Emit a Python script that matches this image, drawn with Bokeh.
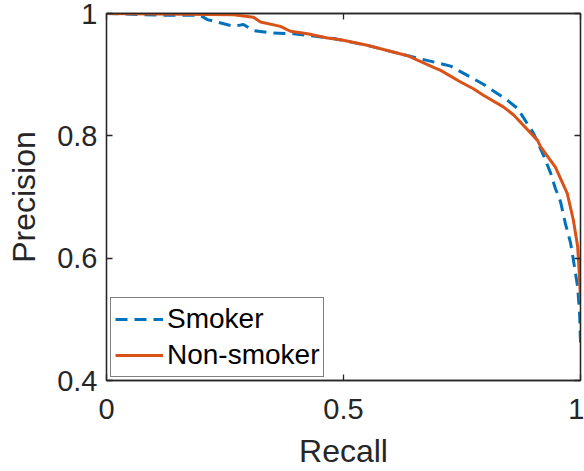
from bokeh.plotting import figure
from bokeh.models import Range1d, LinearAxis, FixedTicker, Legend, LegendItem, CustomLabelingPolicy
from bokeh.embed import file_html
from bokeh.resources import INLINE

# ---- data ----
smoker_recall = [0.0, 0.13, 0.198, 0.213, 0.268, 0.289, 0.31, 0.352, 0.395, 0.479, 0.55,
                 0.62, 0.662, 0.726, 0.796, 0.846, 0.867, 0.901, 0.922, 0.937, 0.947,
                 0.958, 0.968, 0.979, 0.985, 0.994, 0.998, 1.0]
smoker_precision = [1.0, 0.997, 0.997, 0.99, 0.979, 0.982, 0.972, 0.968, 0.967, 0.959, 0.948,
                    0.934, 0.926, 0.914, 0.884, 0.858, 0.845, 0.804, 0.768, 0.739, 0.714,
                    0.692, 0.657, 0.625, 0.597, 0.553, 0.511, 0.462]
nonsmoker_recall = [0.0, 0.268, 0.31, 0.325, 0.367, 0.388, 0.424, 0.466, 0.494, 0.55, 0.635,
                    0.69, 0.705, 0.747, 0.774, 0.796, 0.838, 0.859, 0.909, 0.916, 0.947,
                    0.972, 0.985, 0.994, 0.997, 0.999, 1.0]
nonsmoker_precision = [1.0, 0.998, 0.994, 0.986, 0.979, 0.971, 0.967, 0.96, 0.957, 0.948, 0.931,
                       0.912, 0.907, 0.888, 0.877, 0.866, 0.847, 0.834, 0.793, 0.782, 0.749,
                       0.706, 0.662, 0.619, 0.58, 0.55, 0.53]
x_ticks = [0, 0.5, 1]
y_ticks = [0.4, 0.6, 0.8, 1]
x_tick_labels = {0: "0", 0.5: "0.5", 1: "1"}
y_tick_labels = {0.4: "0.4", 0.6: "0.6", 0.8: "0.8", 1: "1"}
x_label = "Recall"
y_label = "Precision"

FONT = "Liberation Sans"
AX = "#262626"
BLUE = "#0072BD"
ORANGE = "#D95319"

p = figure(width=584, height=471, output_backend="svg", toolbar_location=None,
           x_range=Range1d(0, 1), y_range=Range1d(0.4, 1),
           min_border_left=106, min_border_right=4, min_border_top=13, min_border_bottom=91,
           x_axis_label=x_label, y_axis_label=y_label)
p.grid.visible = False
p.outline_line_color = AX
p.outline_line_width = 1.3
p.background_fill_color = "white"
p.border_fill_color = "white"

HIDE_ALL = CustomLabelingPolicy(code="""
    const idx = [...indices]
    for (const i of idx) indices.unset(i)
    return indices
""")

def style_axis(ax, labels=True):
    ax.axis_line_color = AX
    ax.axis_line_width = 1.3
    ax.major_tick_line_color = AX
    ax.major_tick_line_width = 1.3
    ax.major_tick_in = 6
    ax.major_tick_out = 0
    ax.minor_tick_line_color = None
    ax.major_label_text_font = FONT
    ax.major_label_text_color = AX
    ax.axis_label_text_font = FONT
    ax.axis_label_text_color = AX
    ax.axis_label_text_font_style = "normal"
    if labels:
        ax.major_label_text_font_size = "29px"
        ax.axis_label_text_font_size = "32px"
    else:
        ax.major_label_text_font_size = "0px"
        ax.major_label_standoff = 0
        ax.major_label_policy = HIDE_ALL

style_axis(p.xaxis[0])
style_axis(p.yaxis[0])
p.xaxis[0].ticker = FixedTicker(ticks=x_ticks)
p.yaxis[0].ticker = FixedTicker(ticks=y_ticks)
p.xaxis[0].major_label_overrides = x_tick_labels
p.yaxis[0].major_label_overrides = y_tick_labels
p.xaxis[0].major_label_standoff = 18
p.xaxis[0].axis_label_standoff = 11
p.yaxis[0].major_label_standoff = 9
p.yaxis[0].axis_label_standoff = 12

top = LinearAxis(ticker=FixedTicker(ticks=x_ticks))
right = LinearAxis(ticker=FixedTicker(ticks=y_ticks))
style_axis(top, labels=False)
style_axis(right, labels=False)
p.add_layout(top, "above")
p.add_layout(right, "right")

r1 = p.line(smoker_recall, smoker_precision, line_color=BLUE, line_width=3, line_dash="12 7")
r2 = p.line(nonsmoker_recall, nonsmoker_precision, line_color=ORANGE, line_width=3)

legend = Legend(items=[LegendItem(label="Smoker", renderers=[r1]),
                       LegendItem(label="Non-smoker", renderers=[r2])],
                location=(4, 3), margin=0, padding=4, spacing=2,
                glyph_width=48, glyph_height=34, label_height=34, label_standoff=4,
                label_text_font=FONT, label_text_font_size="28px", label_text_color="black",
                border_line_color="#000000", border_line_width=1.3,
                background_fill_color="white", background_fill_alpha=1)
p.add_layout(legend, "center")

open("out.html", "w").write(file_html(p, INLINE))
